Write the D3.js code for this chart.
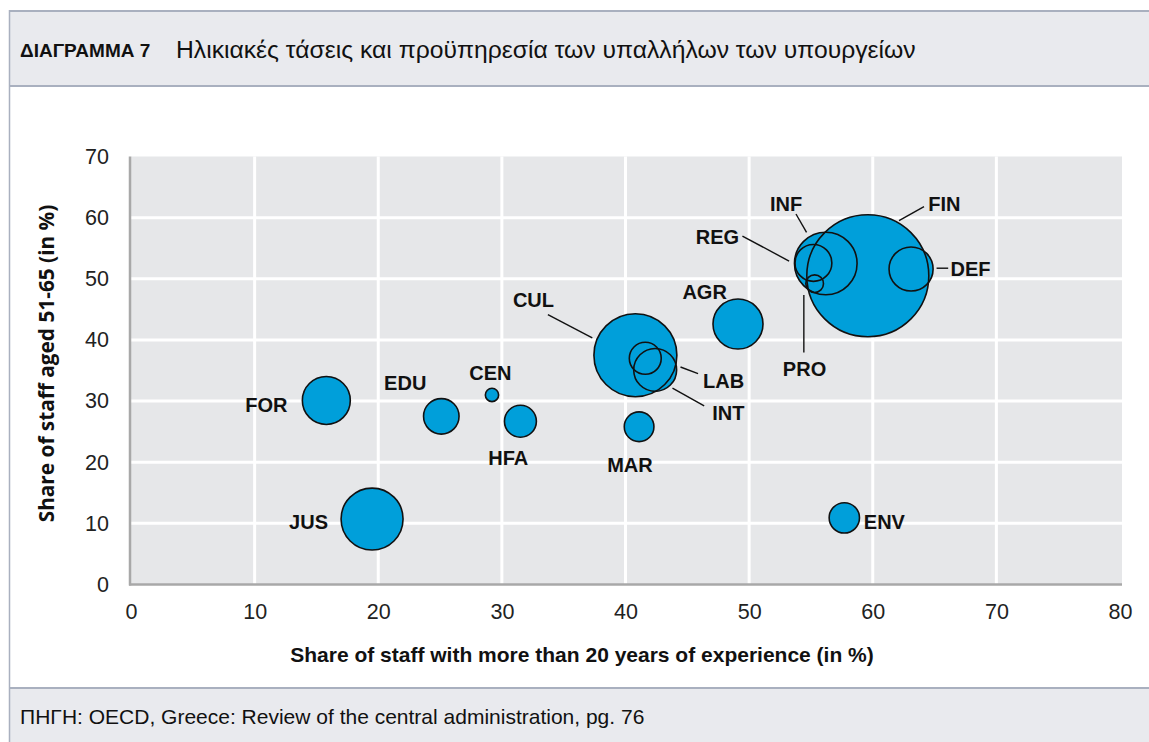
<!DOCTYPE html>
<html>
<head>
<meta charset="utf-8">
<script src="https://cdn.jsdelivr.net/npm/d3@7"></script>
<style>
  html, body { margin: 0; padding: 0; background: #fff; }
  svg { display: block; }
</style>
</head>
<body>
<svg id="chart" width="1149" height="742"></svg>
<script>
// ---------------- DATA ----------------
const ministries = ["FIN","CUL","INF","JUS","AGR","FOR","DEF","INT","REG","EDU","HFA","LAB","ENV","MAR","PRO","CEN"];
const experienceShare = [59.6, 40.8, 56.2, 19.5, 49.1, 15.8, 63.1, 42.4, 55.2, 25.1, 31.5, 41.6, 57.7, 41.1, 55.3, 29.2];
const aged51to65Share = [50.5, 37.5, 52.5, 10.7, 42.6, 30.1, 51.6, 35.1, 52.6, 27.5, 26.7, 37.0, 10.9, 25.8, 49.2, 31.0];
const staffSize = [3720, 1720, 980, 960, 625, 575, 485, 460, 340, 315, 255, 255, 230, 220, 78, 44];
const xTicks = [0, 10, 20, 30, 40, 50, 60, 70, 80];
const yTicks = [0, 10, 20, 30, 40, 50, 60, 70];

const titleLabel = "ΔΙΑΓΡΑΜΜΑ 7";
const titleText = "Ηλικιακές τάσεις και προϋπηρεσία των υπαλλήλων των υπουργείων";
const xTitle = "Share of staff with more than 20 years of experience (in %)";
const yTitle = "Share of staff aged 51-65 (in %)";
const sourceText = "ΠΗΓΗ: OECD, Greece: Review of the central administration, pg. 76";

// ---------------- LAYOUT (label placement, px offsets from bubble centre) ----------------
const labelLayout = {
  FIN: { dx: 60.5, dy: -71.8, leader: [31.2, -55.1, 56.2, -69.1] },
  INF: { dx: -55.8, dy: -59.8, leader: [-29.8, -49.5, -19.2, -31.1] },
  REG: { dx: -117.6, dy: -26.1, leader: [-71, -26.8, -24.3, -1.8] },
  DEF: { dx: 39.5, dy: -0.5, leader: [25.5, -0.8, 37.1, -0.8] },
  PRO: { dx: -31.8, dy: 85.2, leader: [-10.8, 11.2, -10.8, 68.9] },
  AGR: { dx: -55.6, dy: -32 },
  CUL: { dx: -122.5, dy: -55.7, leader: [-87.5, -40.7, -43.1, -17.3] },
  LAB: { dx: 57.8, dy: 22, leader: [35.2, 8.7, 52.8, 15.3] },
  INT: { dx: 57, dy: 43, leader: [17.3, 18.3, 49, 36] },
  FOR: { dx: -81, dy: 4.1 },
  EDU: { dx: -57.2, dy: -33.5 },
  CEN: { dx: -22.7, dy: -22.5 },
  HFA: { dx: -32.2, dy: 36.7 },
  MAR: { dx: -31.9, dy: 38 },
  JUS: { dx: -83, dy: 2.5 },
  ENV: { dx: 19.5, dy: 3.7 }
};

const W = 1149, H = 742;
const plot = { left: 131, right: 1120, top: 156.5, bottom: 584.5, bgRight: 1122 };
const frameColor = "#a9b0bf";
const bandFill = "#e9eaee";
const plotFill = "#e6e7e9";
const bubbleFill = "#009fda";
const sans = "'Liberation Sans', Arial, sans-serif";

const svg = d3.select("#chart");

// ---------------- FRAME ----------------
svg.append("rect").attr("x", 0).attr("y", 0).attr("width", W).attr("height", H).attr("fill", "#fff");
svg.append("rect").attr("x", 10).attr("y", 11).attr("width", W).attr("height", 75).attr("fill", bandFill);
svg.append("rect").attr("x", 10).attr("y", 688).attr("width", W).attr("height", 60).attr("fill", bandFill);
svg.append("line").attr("x1", 9.5).attr("x2", W).attr("y1", 11).attr("y2", 11).attr("stroke", frameColor).attr("stroke-width", 2);
svg.append("line").attr("x1", 9.5).attr("x2", W).attr("y1", 86).attr("y2", 86).attr("stroke", frameColor).attr("stroke-width", 2);
svg.append("line").attr("x1", 9.5).attr("x2", W).attr("y1", 688).attr("y2", 688).attr("stroke", frameColor).attr("stroke-width", 2);
svg.append("line").attr("x1", 9.5).attr("x2", 9.5).attr("y1", 10).attr("y2", H).attr("stroke", frameColor).attr("stroke-width", 1.5);

// title
svg.append("text").attr("x", 20).attr("y", 57).attr("font-family", sans).attr("font-weight", "bold")
  .attr("font-size", 19).attr("fill", "#111").text(titleLabel);
svg.append("text").attr("x", 176).attr("y", 58).attr("font-family", sans).attr("font-size", 24.7)
  .attr("fill", "#111").text(titleText);

// source
svg.append("text").attr("x", 20).attr("y", 723.5).attr("font-family", sans).attr("font-size", 21)
  .attr("fill", "#111").text(sourceText);

// ---------------- SCALES ----------------
const x = d3.scaleLinear().domain([0, 80]).range([plot.left, plot.right]);
const y = d3.scaleLinear().domain([0, 70]).range([plot.bottom, plot.top]);
const r = d3.scaleSqrt().domain([0, 3720]).range([0, 61]);

// plot background
svg.append("rect").attr("x", plot.left).attr("y", plot.top)
  .attr("width", plot.bgRight - plot.left).attr("height", plot.bottom - plot.top).attr("fill", plotFill);

// gridlines
const g = svg.append("g");
g.selectAll(".vg").data(xTicks.filter(d => d > 0 && d < 80)).join("line")
  .attr("x1", d => x(d)).attr("x2", d => x(d)).attr("y1", plot.top).attr("y2", plot.bottom)
  .attr("stroke", "#fff").attr("stroke-width", 3);
g.selectAll(".hg").data(yTicks.filter(d => d > 0 && d < 70)).join("line")
  .attr("x1", plot.left).attr("x2", plot.bgRight).attr("y1", d => y(d)).attr("y2", d => y(d))
  .attr("stroke", "#fff").attr("stroke-width", 3);

// axis lines
svg.append("line").attr("x1", plot.left - 1).attr("x2", plot.left - 1).attr("y1", plot.top).attr("y2", plot.bottom + 1)
  .attr("stroke", "#a8a8a8").attr("stroke-width", 2.5);
svg.append("line").attr("x1", plot.left - 2).attr("x2", plot.bgRight).attr("y1", plot.bottom).attr("y2", plot.bottom)
  .attr("stroke", "#a8a8a8").attr("stroke-width", 2.5);

// axes (labels only)
const xAxis = svg.append("g").attr("transform", `translate(0,${plot.bottom})`)
  .call(d3.axisBottom(x).tickValues(xTicks).tickSize(0).tickPadding(19).tickFormat(d3.format("d")));
const yAxis = svg.append("g").attr("transform", `translate(${plot.left},0)`)
  .call(d3.axisLeft(y).tickValues(yTicks).tickSize(0).tickPadding(22).tickFormat(d3.format("d")));
[xAxis, yAxis].forEach(a => {
  a.select(".domain").remove();
  a.selectAll("text").attr("font-family", sans).attr("font-size", 21.5).attr("fill", "#222");
});

// axis titles
svg.append("text").attr("x", 582).attr("y", 662).attr("text-anchor", "middle")
  .attr("font-family", sans).attr("font-weight", "bold").attr("font-size", 21).attr("fill", "#111").text(xTitle);
svg.append("text").attr("transform", `translate(54,363.5) rotate(-90)`).attr("text-anchor", "middle")
  .attr("font-family", "'Open Sans', 'Liberation Sans', sans-serif").attr("font-weight", "bold").attr("font-size", 20.8)
  .attr("fill", "#111").text(yTitle);

// ---------------- BUBBLES ----------------
const data = ministries.map((m, i) => ({ name: m, xv: experienceShare[i], yv: aged51to65Share[i], s: staffSize[i] }));
const bubbles = svg.append("g");
bubbles.selectAll(".fill").data(data).join("circle")
  .attr("cx", d => x(d.xv)).attr("cy", d => y(d.yv)).attr("r", d => r(d.s)).attr("fill", bubbleFill);
bubbles.selectAll(".stroke").data(data).join("circle")
  .attr("cx", d => x(d.xv)).attr("cy", d => y(d.yv)).attr("r", d => r(d.s))
  .attr("fill", "none").attr("stroke", "#111").attr("stroke-width", 1.6);

// leaders and labels
const ann = svg.append("g");
data.forEach(d => {
  const L = labelLayout[d.name];
  const cx = x(d.xv), cy = y(d.yv);
  if (L.leader) {
    ann.append("line").attr("x1", cx + L.leader[0]).attr("y1", cy + L.leader[1])
      .attr("x2", cx + L.leader[2]).attr("y2", cy + L.leader[3]).attr("stroke", "#111").attr("stroke-width", 1.4);
  }
  ann.append("text").attr("x", cx + L.dx).attr("y", cy + L.dy + 7.3)
    .attr("font-family", sans).attr("font-weight", "bold").attr("font-size", 20).attr("fill", "#111").text(d.name);
});
</script>
</body>
</html>
